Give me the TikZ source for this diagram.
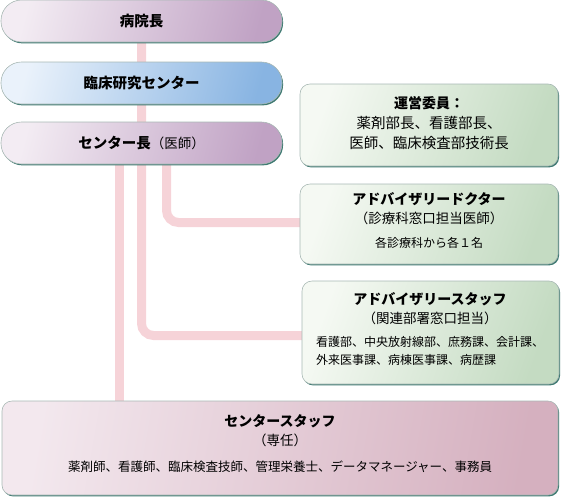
\documentclass[tikz,border=0pt]{standalone}
\usepackage{fontspec}
\setmainfont{Noto Sans CJK JP}
\usetikzlibrary{shadows}
\definecolor{linkc}{HTML}{F6D3D8}
\definecolor{shadc}{HTML}{3F7A72}
\definecolor{edgec}{HTML}{A8B8B4}
\definecolor{puA}{HTML}{F3ECF3}
\definecolor{puB}{HTML}{C0A2C4}
\definecolor{blA}{HTML}{EAF2FB}
\definecolor{blB}{HTML}{88B4E2}
\definecolor{grA}{HTML}{F5F9F3}
\definecolor{grB}{HTML}{C4DBC2}
\definecolor{pkA}{HTML}{F3E8EE}
\definecolor{pkB}{HTML}{D5B0BF}
\tikzset{
  box/.style={draw=edgec, line width=0.6pt, inner sep=0pt,
    general shadow={shadow xshift=1.1pt, shadow yshift=-1.4pt, fill=shadc}},
  pill/.style={box, rounded corners=20.5pt, minimum width=281pt, minimum height=42pt,
    font=\fontsize{14.5}{16}\selectfont\bfseries},
  purp/.style={left color=puA, right color=puB, shading angle=75},
  blue/.style={left color=blA, right color=blB, shading angle=75},
  grn/.style={box, rounded corners=10pt, left color=grA, right color=grB, shading angle=70},
  pnk/.style={box, rounded corners=10pt, left color=pkA, right color=pkB, shading angle=80},
  link/.style={draw=linkc, line width=9pt, rounded corners=12pt},
  ttl/.style={font=\fontsize{14}{16}\selectfont\bfseries, inner sep=0pt},
  big/.style={font=\fontsize{14.5}{16}\selectfont, inner sep=0pt},
  mid/.style={font=\fontsize{13.5}{15}\selectfont, inner sep=0pt},
  sml/.style={font=\fontsize{12}{14}\selectfont, inner sep=0pt},
}
\begin{document}
\begin{tikzpicture}[x=1pt,y=-1pt]
\useasboundingbox (0,0) rectangle (561,498);
% connector anchors
\coordinate (top) at (141.5,20);
\coordinate (d1) at (119.5,150);
\coordinate (d3) at (166.5,150);
\coordinate (e1) at (119.5,410);
\coordinate (e2) at (306,335.5);
\coordinate (e3) at (306,222.5);
% connectors
\draw[link] (top) |- (e2);
\draw[link] (d3) |- (e3);
\draw[link] (d1) -- (e1);
% boxes
\node[pill, purp] (hosp) at (141.5,21) {病院長};
\node[pill, blue] (crc) at (141.5,83) {臨床研究センター};
\node[pill, purp] (dir) at (141.5,143) {センター長{\mdseries\fontsize{13.5}{15}\selectfont （医師）}};
\node[grn, minimum width=258pt, minimum height=82pt] (comm) at (429,125) {};
\node[grn, minimum width=258pt, minimum height=80pt] (doc) at (429,224) {};
\node[grn, minimum width=257pt, minimum height=103pt] (stf) at (430.5,332.5) {};
\node[pnk, minimum width=556pt, minimum height=94pt] (staff) at (280,448) {};
% texts
\node[ttl] (c1) at (429,103) {運営委員：};
\node[big] (c2) at (429,123) {薬剤部長、看護部長、};
\node[big] (c3) at (429,143) {医師、臨床検査部技術長};
\node[ttl] (a1) at (429,199) {アドバイザリードクター};
\node[mid] (a2) at (429,218) {（診療科窓口担当医師）};
\node[sml] (a3) at (429,243) {各診療科から各１名};
\node[ttl] (s1) at (430,299) {アドバイザリースタッフ};
\node[mid] (s2) at (430,318) {（関連部署窓口担当）};
\node[sml, anchor=west] (s3) at (316,342) {看護部、中央放射線部、庶務課、会計課、};
\node[sml, anchor=west] (s4) at (316,360) {外来医事課、病棟医事課、病歴課};
\node[ttl] (t1) at (280,421) {センタースタッフ};
\node[mid] (t2) at (280,440) {（専任）};
\node[font=\fontsize{12.5}{14}\selectfont, inner sep=0pt] (t3) at (280,467) {薬剤師、看護師、臨床検査技師、管理栄養士、データマネージャー、事務員};
\end{tikzpicture}
\end{document}
